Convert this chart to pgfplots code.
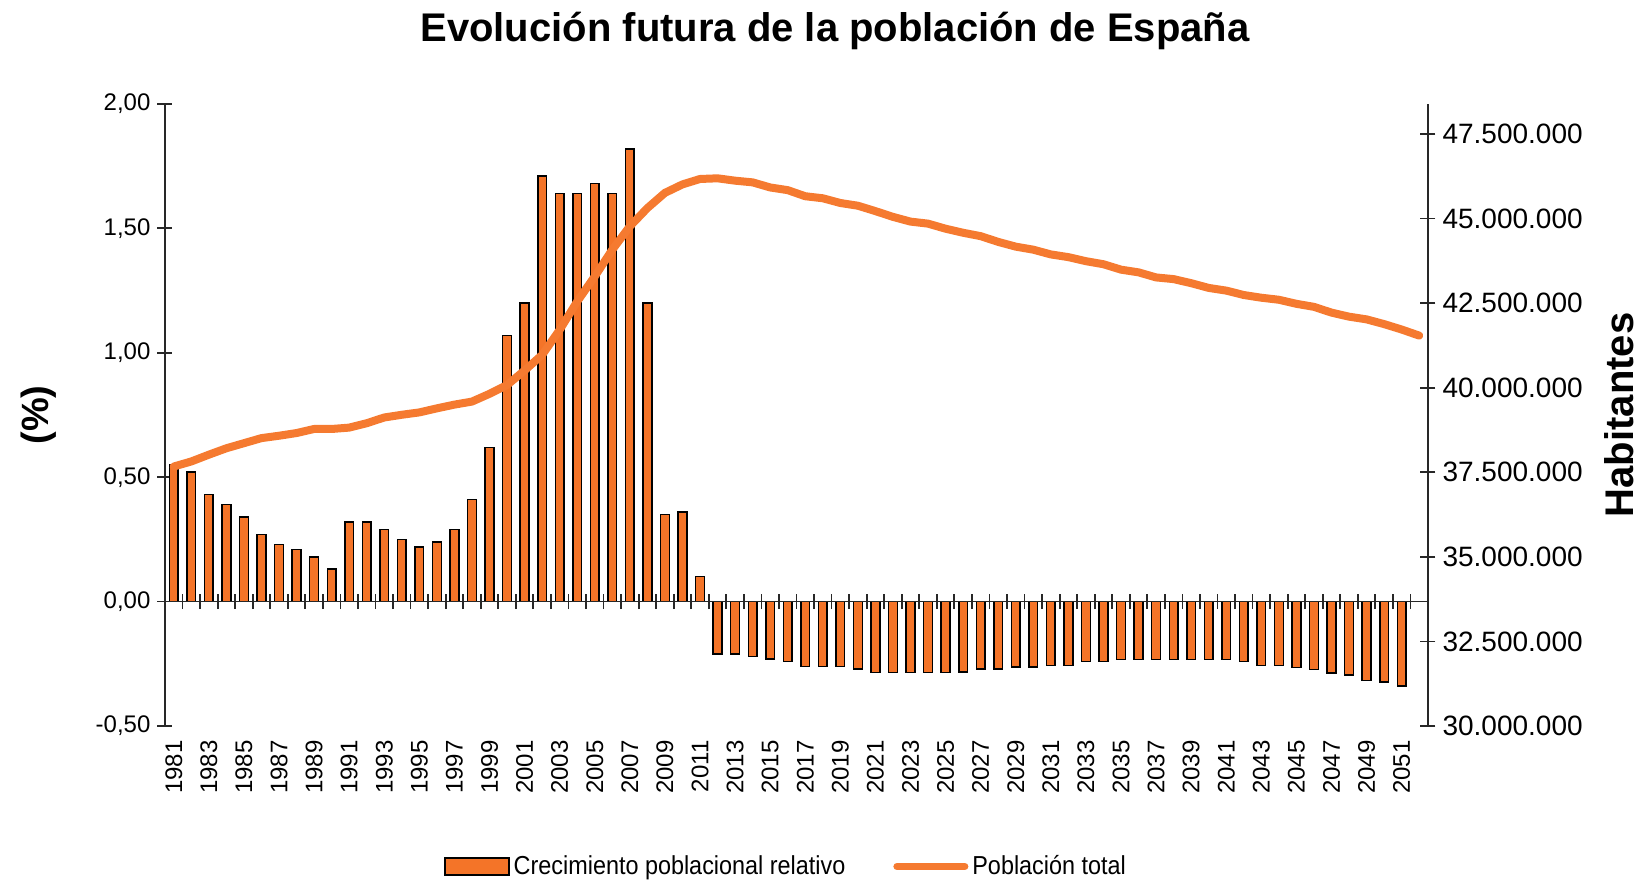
\documentclass[border=0pt]{standalone}
\usepackage{fontspec}
\setmainfont{Liberation Sans}
\newfontfamily\narrowfont[FakeStretch=0.9]{Liberation Sans}
\usepackage{pgfplots}
\usepackage{pgfplotstable}
\pgfplotsset{compat=1.18}
\definecolor{barorange}{RGB}{244,116,40}
\definecolor{lineorange}{RGB}{245,122,48}
\definecolor{axisgray}{RGB}{40,40,40}

% index 0 = 1981
\pgfplotstableread{
idx val
0 0.55
1 0.52
2 0.43
3 0.39
4 0.34
5 0.27
6 0.23
7 0.21
8 0.18
9 0.13
10 0.32
11 0.32
12 0.29
13 0.25
14 0.22
15 0.24
16 0.29
17 0.41
18 0.62
19 1.07
20 1.20
21 1.71
22 1.64
23 1.64
24 1.68
25 1.64
26 1.82
27 1.20
28 0.35
29 0.36
30 0.10
31 -0.21
32 -0.21
33 -0.22
34 -0.23
35 -0.24
36 -0.26
37 -0.26
38 -0.26
39 -0.27
40 -0.285
41 -0.285
42 -0.285
43 -0.285
44 -0.285
45 -0.284
46 -0.27
47 -0.27
48 -0.263
49 -0.263
50 -0.256
51 -0.256
52 -0.24
53 -0.24
54 -0.233
55 -0.233
56 -0.233
57 -0.233
58 -0.233
59 -0.233
60 -0.233
61 -0.24
62 -0.256
63 -0.256
64 -0.265
65 -0.272
66 -0.288
67 -0.295
68 -0.318
69 -0.324
70 -0.339
}\bardata

\pgfplotstableread{
idx pop
0 37670000
1 37820000
2 38020000
3 38210000
4 38360000
5 38510000
6 38580000
7 38660000
8 38780000
9 38780000
10 38820000
11 38950000
12 39120000
13 39200000
14 39270000
15 39390000
16 39500000
17 39590000
18 39820000
19 40080000
20 40510000
21 40970000
22 41710000
23 42550000
24 43290000
25 44080000
26 44770000
27 45310000
28 45760000
29 46010000
30 46170000
31 46190000
32 46120000
33 46070000
34 45920000
35 45840000
36 45660000
37 45600000
38 45460000
39 45380000
40 45220000
41 45050000
42 44910000
43 44850000
44 44700000
45 44580000
46 44480000
47 44310000
48 44170000
49 44080000
50 43940000
51 43860000
52 43740000
53 43650000
54 43490000
55 43410000
56 43260000
57 43210000
58 43090000
59 42950000
60 42870000
61 42740000
62 42660000
63 42600000
64 42480000
65 42390000
66 42220000
67 42100000
68 42020000
69 41880000
70 41720000
71 41540000
}\popdata

\begin{document}
\begin{tikzpicture}
\useasboundingbox (-82.5pt,-77.5pt) rectangle (740pt,363pt);
\pgfplotsset{
  common/.style={
    width=631.5pt, height=311pt, scale only axis,
    xmin=-0.5, xmax=71.5,
    /pgf/number format/assume math mode=true,
    axis line style={axisgray, line width=0.9pt},
    tick style={axisgray, line width=0.9pt},
    tick align=center,
    major tick length=7.5pt,
  },
}
% bars, left axis, year labels
\begin{axis}[common,
  ymin=-0.5, ymax=2,
  axis y line*=left, axis x line*=bottom,
  x axis line style={draw=none},
  xtick={0,2,...,70},
  xticklabels={1981,1983,1985,1987,1989,1991,1993,1995,1997,1999,2001,2003,2005,2007,2009,2011,2013,2015,2017,2019,2021,2023,2025,2027,2029,2031,2033,2035,2037,2039,2041,2043,2045,2047,2049,2051},
  xtick style={draw=none},
  xticklabel style={rotate=90, anchor=east, font=\fontsize{12}{14}\selectfont},
  ytick={-0.5,0,0.5,1,1.5,2},
  yticklabel style={/pgf/number format/fixed, /pgf/number format/fixed zerofill,
    /pgf/number format/precision=2, /pgf/number format/use comma,
    font=\fontsize{12}{14}\selectfont},
  every axis y label/.style={at={(axis description cs:-0.0998,0.5)}, rotate=90, anchor=center},
  ylabel={\bfseries\fontsize{19}{22}\selectfont (\%)},
]
\addplot[ybar, bar width=0.5, fill=barorange, draw=black, line width=0.75pt] table[x=idx,y=val]{\bardata};
\end{axis}
% zero line with category ticks
\begin{axis}[common,
  ymin=-0.5, ymax=2,
  axis x line*=middle, axis y line=none,
  every inner x axis line/.append style={-},
  x axis line style={-},
  xtick={0.5,1.5,...,70.5},
  xticklabels={},
]
\end{axis}
% population, right axis
\begin{axis}[common,
  ymin=30000000, ymax=48387000,
  axis y line*=right, axis x line=none,
  ytick={30000000,32500000,35000000,37500000,40000000,42500000,45000000,47500000},
  scaled y ticks=false,
  yticklabel style={/pgf/number format/fixed, /pgf/number format/precision=0,
    /pgf/number format/1000 sep={.}, font=\fontsize{14}{16}\selectfont},
  every axis y label/.style={at={(axis description cs:1.1515,0.5)}, rotate=90, anchor=center},
  ylabel={\bfseries\fontsize{20}{24}\selectfont Habitantes},
  legend columns=2,
  legend style={draw=none, fill=none, at={(axis description cs:0.4925,-0.2259)}, anchor=center,
    font=\narrowfont\fontsize{13}{15}\selectfont,
    /tikz/every even column/.append style={column sep=22pt}},
]
\addlegendimage{legend image code/.code={\draw[fill=barorange, draw=black, line width=0.8pt] (0pt,-4.2pt) rectangle (32pt,4.2pt);}}
\addlegendentry{Crecimiento poblacional relativo}
\addplot[color=lineorange, line width=4pt, line cap=round, line join=round,
  legend image code/.code={\draw[lineorange, line width=3.5pt] (0pt,0pt) -- (34pt,0pt);}]
  table[x=idx,y=pop]{\popdata};
\addlegendentry{Población total}
\end{axis}
\node[anchor=base, font=\bfseries\fontsize{20}{24}\selectfont] at (335pt,342pt) {Evolución futura de la población de España};
\end{tikzpicture}
\end{document}
